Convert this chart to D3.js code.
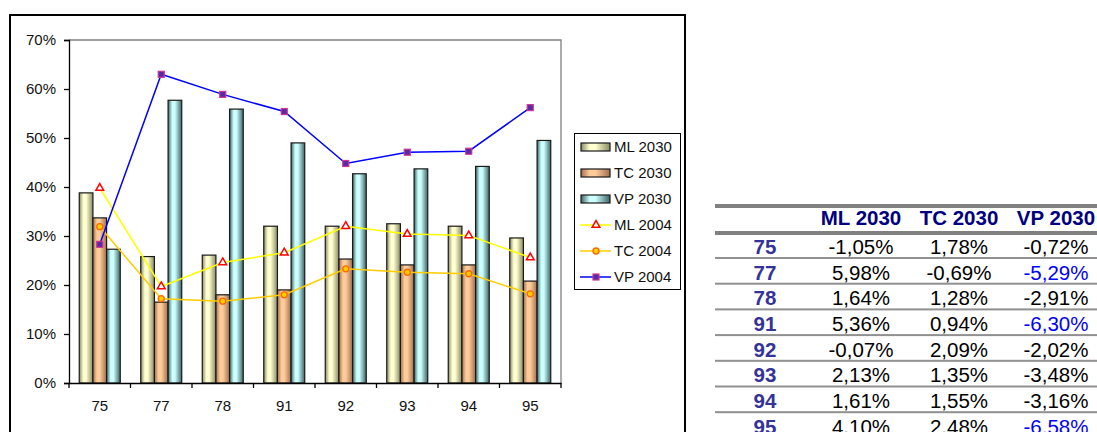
<!DOCTYPE html>
<html>
<head>
<meta charset="utf-8">
<script src="https://cdn.jsdelivr.net/npm/d3@7/dist/d3.min.js"></script>
<style>
html,body{margin:0;padding:0;background:#fff;}
svg{display:block;font-family:"Liberation Sans",Arial,sans-serif;}
</style>
</head>
<body>
<svg id="chart" width="1097" height="432"></svg>
<script>
// ---- data ----
const categories = ["75","77","78","91","92","93","94","95"];
const barSeries = ["ML 2030","TC 2030","VP 2030"];
const lineSeries = ["ML 2004","TC 2004","VP 2004"];
const ml2030 = [38.8, 25.8, 26.1, 32.0, 32.0, 32.5, 32.0, 29.6];
const tc2030 = [33.7, 16.5, 18.0, 19.0, 25.3, 24.1, 24.1, 20.8];
const vp2030 = [27.3, 57.7, 55.9, 49.0, 42.7, 43.7, 44.2, 49.5];
const ml2004 = [39.8, 19.7, 24.6, 26.6, 32.0, 30.4, 30.1, 25.6];
const tc2004 = [31.9, 17.2, 16.7, 18.0, 23.3, 22.6, 22.3, 18.2];
const vp2004 = [28.3, 63.0, 58.9, 55.4, 44.8, 47.1, 47.3, 56.2];
const yTicks = [0, 10, 20, 30, 40, 50, 60, 70];
// table
const tableHeaders = ["ML 2030","TC 2030","VP 2030"];
const tableML = [-1.05, 5.98, 1.64, 5.36, -0.07, 2.13, 1.61, 4.10];
const tableTC = [1.78, -0.69, 1.28, 0.94, 2.09, 1.35, 1.55, 2.48];
const tableVP = [-0.72, -5.29, -2.91, -6.30, -2.02, -3.48, -3.16, -6.58];

(function(){
const svg = d3.select("#chart");
const defs = svg.append("defs");

const gradSpecs = [
  {id:"gML", dark:"#8a8a66", light:"#ffffd0"},
  {id:"gTC", dark:"#a07050", light:"#ffcc99"},
  {id:"gVP", dark:"#3e6464", light:"#ccffff"}
];
gradSpecs.forEach(g=>{
  const lgr = defs.append("linearGradient").attr("id",g.id).attr("x1","0").attr("x2","1").attr("y1","0").attr("y2","0");
  lgr.append("stop").attr("offset","0%").attr("stop-color",g.dark);
  lgr.append("stop").attr("offset","30%").attr("stop-color",g.light);
  lgr.append("stop").attr("offset","50%").attr("stop-color",g.light);
  lgr.append("stop").attr("offset","100%").attr("stop-color",g.dark);
});
const barFill = ["url(#gML)","url(#gTC)","url(#gVP)"];

svg.append("rect").attr("x",10).attr("y",15).attr("width",675).attr("height",430)
  .attr("fill","none").attr("stroke","#000").attr("stroke-width",2);

const pLeft = 69, pRight = 561, pTop = 40, pBottom = 383;
const x = d3.scaleBand().domain(categories).range([pLeft,pRight]).paddingInner(0).paddingOuter(0);
const y = d3.scaleLinear().domain([0,70]).range([pBottom,pTop]);
const groupW = x.bandwidth()*3/4.5;
const xs = d3.scaleBand().domain(barSeries).range([0,groupW]);

svg.append("path").attr("d",`M${pLeft},${pTop}H${pRight}V${pBottom}`)
  .attr("fill","none").attr("stroke","#808080").attr("stroke-width",1.3);

const barData = [ml2030, tc2030, vp2030];
barData.forEach((arr,si)=>{
  svg.append("g").selectAll("rect").data(arr).join("rect")
    .attr("x",(d,i)=>x(categories[i]) + (x.bandwidth()-groupW)/2 + xs(barSeries[si]))
    .attr("y",d=>y(d))
    .attr("width",xs.bandwidth())
    .attr("height",d=>y(0)-y(d))
    .attr("fill",barFill[si])
    .attr("stroke","#1a1a1a").attr("stroke-width",1.2);
});

const yAxis = d3.axisLeft(y).tickValues(yTicks).tickSize(5).tickPadding(8).tickFormat(d=>d+"%");
const gy = svg.append("g").attr("transform",`translate(${pLeft},0)`).call(yAxis);
gy.select(".domain").attr("stroke","#000").attr("stroke-width",1.3);
gy.selectAll(".tick line").attr("stroke","#000").attr("stroke-width",1.3);
gy.selectAll("text").attr("font-size",15).attr("fill","#111").attr("font-family","Liberation Sans, Arial, sans-serif");

const xAxis = d3.axisBottom(x).tickSize(0).tickPadding(17);
const gx = svg.append("g").attr("transform",`translate(0,${pBottom})`).call(xAxis);
gx.select(".domain").attr("stroke","#000").attr("stroke-width",1.3);
gx.selectAll("text").attr("font-size",15).attr("fill","#111").attr("font-family","Liberation Sans, Arial, sans-serif");
const bounds = categories.map(c=>x(c)).concat([pRight]);
gx.selectAll(".btick").data(bounds).join("line").attr("class","btick")
  .attr("x1",d=>d).attr("x2",d=>d).attr("y1",0).attr("y2",5)
  .attr("stroke","#000").attr("stroke-width",1.3);

const cx = c=>x(c)+x.bandwidth()/2;
const lineData = [ml2004, tc2004, vp2004];
const lineColors = ["#ffff00","#ffcc00","#0000ff"];
const lineGen = d3.line().x((d,i)=>cx(categories[i])).y(d=>y(d));
lineData.forEach((arr,si)=>{
  svg.append("path").datum(arr).attr("d",lineGen).attr("fill","none")
    .attr("stroke",lineColors[si]).attr("stroke-width",1.5);
});
function drawMarker(g, si, px, py){
  if(si===0){
    g.append("path").attr("d",d3.symbol(d3.symbolTriangle,26)())
      .attr("transform",`translate(${px},${py})`)
      .attr("fill","#fff").attr("stroke","#ff0000").attr("stroke-width",1.5);
  } else if(si===1){
    g.append("circle").attr("cx",px).attr("cy",py).attr("r",3)
      .attr("fill","#ffcc00").attr("stroke","#ff6600").attr("stroke-width",1.3);
  } else {
    g.append("rect").attr("x",px-3).attr("y",py-3).attr("width",6).attr("height",6)
      .attr("fill","#5a2aa0").attr("stroke","#cc3399").attr("stroke-width",1.2);
  }
}
lineData.forEach((arr,si)=>{
  const g = svg.append("g");
  arr.forEach((d,i)=>drawMarker(g, si, cx(categories[i]), y(d)));
});

const lg = svg.append("g");
lg.append("rect").attr("x",574.5).attr("y",133.5).attr("width",106).attr("height",156)
  .attr("fill","#fff").attr("stroke","#000").attr("stroke-width",1);
const legItems = barSeries.concat(lineSeries);
legItems.forEach((name,i)=>{
  const yy = 147 + i*26;
  if(i<3){
    lg.append("rect").attr("x",581).attr("y",yy-4).attr("width",29).attr("height",8)
      .attr("fill",barFill[i]).attr("stroke","#1a1a1a").attr("stroke-width",1.2);
  } else {
    const si=i-3;
    lg.append("line").attr("x1",580).attr("x2",611).attr("y1",yy).attr("y2",yy)
      .attr("stroke",lineColors[si]).attr("stroke-width",1.5);
    drawMarker(lg, si, 596, yy);
  }
  lg.append("text").attr("x",614).attr("y",yy).attr("dy","0.36em")
    .attr("font-size",15).attr("fill","#111").text(name);
});

const tb = svg.append("g").attr("font-family","Liberation Sans, Arial, sans-serif");
const colX = [765, 861, 959, 1056];
const tLeft = 715, tRight = 1097;
tb.append("rect").attr("x",tLeft).attr("y",204).attr("width",tRight-tLeft).attr("height",4).attr("fill","#808080");
tb.append("rect").attr("x",tLeft).attr("y",231).attr("width",tRight-tLeft).attr("height",4).attr("fill","#808080");
tableHeaders.forEach((h,j)=>{
  tb.append("text").attr("x",colX[j+1]).attr("y",218).attr("dy","0.36em")
    .attr("text-anchor","middle").attr("font-size",20.5).attr("font-weight","bold")
    .attr("fill","#000080").text(h);
});
const fmt = v => d3.format(".2f")(v).replace("\u2212","-").replace(".",",")+"%";
const rowH = 25.7;
categories.forEach((c,i)=>{
  const yy = 246.5 + i*rowH;
  tb.append("text").attr("x",colX[0]).attr("y",yy).attr("dy","0.36em").attr("text-anchor","middle")
    .attr("font-size",20.5).attr("font-weight","bold").attr("fill","#333399").text(c);
  [tableML[i], tableTC[i], tableVP[i]].forEach((v,j)=>{
    tb.append("text").attr("x",colX[j+1]).attr("y",yy).attr("dy","0.36em").attr("text-anchor","middle")
      .attr("font-size",20.5).attr("fill",(j===2 && v < -5) ? "#0000ff" : "#000").text(fmt(v));
  });
  tb.append("rect").attr("x",tLeft).attr("y",257 + i*rowH).attr("width",tRight-tLeft).attr("height",2).attr("fill","#909090");
});
})();
</script>
</body>
</html>
